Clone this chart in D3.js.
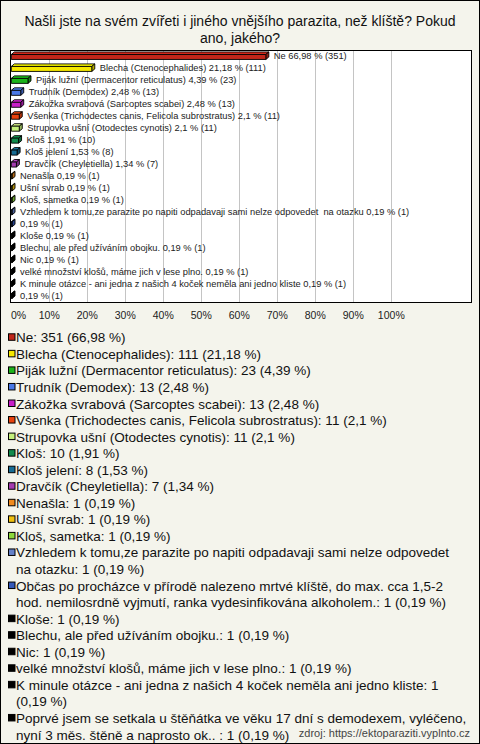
<!DOCTYPE html>
<html><head><meta charset="utf-8">
<script src="https://cdn.jsdelivr.net/npm/d3@7"></script>
<style>html,body{margin:0;padding:0;background:#fff}svg{display:block}text{font-family:"Liberation Sans",Arial,sans-serif}</style>
</head><body>
<script>
const titleLines = ["Našli jste na svém zvířeti i jiného vnějšího parazita, než klíště? Pokud", "ano, jakého?"];
const labels = [
 "Ne",
 "Blecha (Ctenocephalides)",
 "Piják lužní (Dermacentor reticulatus)",
 "Trudník (Demodex)",
 "Zákožka svrabová (Sarcoptes scabei)",
 "Všenka (Trichodectes canis, Felicola subrostratus)",
 "Strupovka ušní (Otodectes cynotis)",
 "Kloš",
 "Kloš jelení",
 "Dravčík (Cheyletiella)",
 "Nenašla",
 "Ušní svrab",
 "Kloš, sametka",
 "Vzhledem k tomu,ze parazite po napiti odpadavaji sami nelze odpovedet  na otazku",
 "Občas po procházce v přírodě nalezeno mrtvé klíště, do max. cca 1,5-2 hod. nemilosrdně vyjmutí, ranka vydesinfikována alkoholem.",
 "Kloše",
 "Blechu, ale před užíváním obojku.",
 "Nic",
 "velké množství klošů, máme jich v lese plno.",
 "K minule otázce - ani jedna z našich 4 koček neměla ani jedno kliste",
 "Poprvé jsem se setkala u štěňátka ve věku 17 dní s demodexem, vyléčeno, nyní 3 měs. štěně a naprosto ok.. "
];
const counts = [351,111,23,13,13,11,11,10,8,7,1,1,1,1,1,1,1,1,1,1,1];
const percents = [66.98,21.18,4.39,2.48,2.48,2.1,2.1,1.91,1.53,1.34,0.19,0.19,0.19,0.19,0.19,0.19,0.19,0.19,0.19,0.19,0.19];
const colors = ["#c0261a","#f5e800","#1cb41c","#4a78e6","#c81ec8","#e8420e","#c4f07c","#108a4c","#166c94","#a43cb0","#f08a1e","#f0c010","#8cd83c","#6480c8","#3458b8","#000000","#000000","#000000","#000000","#000000","#000000"];
const tickValues = [0,10,20,30,40,50,60,70,80,90,100];
const source = "zdroj: https://ektoparaziti.vyplnto.cz";

const W = 480, H = 744;
const fmt = v => String(v).replace('.', ',');
const svg = d3.select("body").append("svg").attr("width", W).attr("height", H);
svg.append("rect").attr("x",0.5).attr("y",0.5).attr("width",W-1).attr("height",H-1)
  .attr("fill","#f4f4ec").attr("stroke","#000");

svg.selectAll("text.title").data(titleLines).join("text").attr("class","title")
  .attr("x", W/2).attr("y",(d,i)=>26+i*16.5).attr("text-anchor","middle")
  .attr("font-size",14).attr("fill","#111").text(d=>d);

const pL = 11, pR = 471, pT = 51, pB = 302;
svg.append("rect").attr("x",pL-0.5).attr("y",pT-0.5).attr("width",pR-pL+1).attr("height",pB-pT+1)
  .attr("fill","#fff").attr("stroke","#000");

const x = d3.scaleLinear().domain([0,100]).range([11.3, 391.3]);
const y = d3.scaleBand().domain(d3.range(labels.length)).range([pT, pB]);

svg.selectAll("line.grid").data(tickValues.filter(t=>t>0)).join("line").attr("class","grid")
  .attr("x1",d=>Math.round(x(d))+0.5).attr("x2",d=>Math.round(x(d))+0.5)
  .attr("y1",pT).attr("y2",pB).attr("stroke","#c4c4c4").attr("stroke-width",1);

svg.selectAll("text.tick").data(tickValues).join("text").attr("class","tick")
  .attr("x",d=>d===0 ? 11 : x(d)).attr("y",319)
  .attr("text-anchor",d=>d===0?"start":"middle").attr("font-size",10.5).attr("fill","#222")
  .text(d=>d+"%");

const bh = 5, dx = 3, dy = 2.5;
const bars = svg.append("g");
labels.forEach((lab,i)=>{
  const cy = y(i) + y.bandwidth()/2;
  const x0 = x(0), x1 = x(percents[i]);
  const y0 = cy - 2.5, y1 = y0 + bh;
  const c = d3.color(colors[i]);
  const g = bars.append("g").attr("stroke","#000").attr("stroke-width",0.9).attr("stroke-linejoin","round");
  g.append("polygon").attr("points",[[x0,y0],[x0+dx,y0-dy],[x1+dx,y0-dy],[x1,y0]].join(" "))
    .attr("fill", c.brighter(0.4));
  g.append("polygon").attr("points",[[x1,y0],[x1+dx,y0-dy],[x1+dx,y1-dy],[x1,y1]].join(" "))
    .attr("fill", c.darker(0.8));
  g.append("rect").attr("x",x0).attr("y",y0).attr("width",Math.max(0,x1-x0)).attr("height",bh)
    .attr("fill", c);
  const txt = (lab.length > 90 ? "" : lab.trim() + " ") + fmt(percents[i]) + " % (" + counts[i] + ")";
  svg.append("text").attr("x", x1 + dx + 5).attr("y", cy + 2.5)
    .attr("font-size", 9.3).attr("fill","#222").style("white-space","pre").text(txt);
});

// legend
const lx = 16, maxX = 469, lineH = 16.55;
let line = 0;
const lg = svg.append("g");
labels.forEach((lab,i)=>{
  const cy = 337.3 + line*lineH;
  lg.append("rect").attr("x",8.5).attr("y",cy-3.5).attr("width",6.5).attr("height",6.5)
    .attr("fill",colors[i]).attr("stroke","#000").attr("stroke-width",1);
  const full = lab + ": " + counts[i] + " (" + fmt(percents[i]) + " %)";
  const words = full.split(" ");
  const t = lg.append("text").attr("font-size",13.5).attr("fill","#111").style("white-space","pre");
  let cur = "", ln = 0;
  let ts = t.append("tspan").attr("x",lx).attr("y",cy+5);
  words.forEach((w,k)=>{
    const test = k===0 ? w : cur + " " + w;
    ts.text(test);
    if (ts.node().getComputedTextLength() > maxX - lx && cur !== "") {
      ts.text(cur);
      ln++;
      ts = t.append("tspan").attr("x",lx).attr("y",cy+5+ln*lineH).text(w);
      cur = w;
    } else cur = test;
  });
  line += ln + 1;
});

svg.append("text").attr("x",470).attr("y",737).attr("text-anchor","end")
  .attr("font-size",11).attr("fill","#444").text(source);
</script>
</body></html>
